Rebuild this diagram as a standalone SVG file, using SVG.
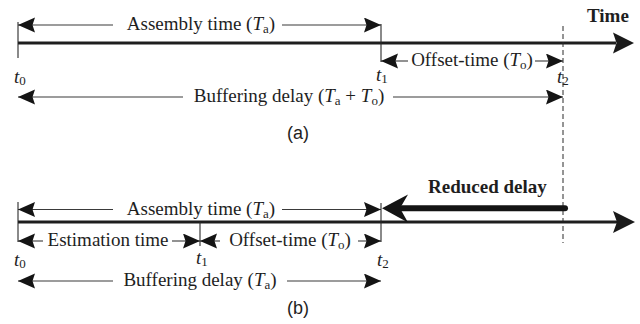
<svg xmlns="http://www.w3.org/2000/svg" width="640" height="324" viewBox="0 0 640 324">
  <style>
    .lbl { font-family: "Liberation Serif", "Times New Roman", serif; font-size: 19px; fill: #1e1e1e; }
    .bold { font-weight: bold; }
    .it { font-style: italic; }
    .cap { font-family: "Liberation Sans", Arial, sans-serif; font-size: 18px; fill: #1e1e1e; text-anchor: middle; }
    .dim { stroke: #3a3a3a; stroke-width: 1.1; fill: none; }
    .tick { stroke: #2a2a2a; stroke-width: 1.1; fill: none; }
    .axis { stroke: #1e1e1e; stroke-width: 3; fill: none; }
    .dash { stroke: #2a2a2a; stroke-width: 1; stroke-dasharray: 5 3; fill: none; }
  </style>
  <defs>
    <!-- notched arrowhead for dimension lines -->
    <marker id="head" markerUnits="userSpaceOnUse" markerWidth="20" markerHeight="16" refX="17" refY="7.5" orient="auto-start-reverse">
      <path d="M0,0 L17,7.5 L0,15 L2.5,7.5 Z" fill="#141414"/>
    </marker>
  </defs>

  <!-- ===== panel (a) ===== -->
  <g id="axis-a">
    <line class="axis" x1="18" y1="43" x2="616" y2="43"/>
    <path d="M634,43 L613,32.5 L616.5,43 L613,53.5 Z" fill="#1a1a1a"/>
    <text class="lbl bold" x="587" y="22">Time</text>
  </g>

  <g id="ticks-a">
    <line class="tick" x1="18" y1="22" x2="18" y2="58"/>
    <line class="tick" x1="381" y1="24" x2="381" y2="62"/>
  </g>

  <g id="connectors">
    <!-- panel (a) dimension lines -->
    <line class="dim" x1="18" y1="25" x2="113" y2="25" marker-start="url(#head)"/>
    <line class="dim" x1="282" y1="25" x2="381" y2="25" marker-end="url(#head)"/>
    <line class="dim" x1="381" y1="61" x2="408" y2="61" marker-start="url(#head)"/>
    <line class="dim" x1="535" y1="61" x2="563" y2="61" marker-end="url(#head)"/>
    <line class="dim" x1="18" y1="97" x2="183" y2="97" marker-start="url(#head)"/>
    <line class="dim" x1="393" y1="97" x2="563" y2="97" marker-end="url(#head)"/>
    <!-- shared t2 guide -->
    <line class="dash" x1="563" y1="26" x2="563" y2="243"/>
    <!-- panel (b) dimension lines -->
    <line class="dim" x1="18" y1="209.5" x2="113" y2="209.5" marker-start="url(#head)"/>
    <line class="dim" x1="282" y1="209.5" x2="381" y2="209.5" marker-end="url(#head)"/>
    <line class="dim" x1="18" y1="241" x2="43" y2="241" marker-start="url(#head)"/>
    <line class="dim" x1="172" y1="241" x2="200" y2="241" marker-end="url(#head)"/>
    <line class="dim" x1="200" y1="241" x2="220" y2="241" marker-start="url(#head)"/>
    <line class="dim" x1="358" y1="241" x2="381" y2="241" marker-end="url(#head)"/>
    <line class="dim" x1="18" y1="281" x2="113" y2="281" marker-start="url(#head)"/>
    <line class="dim" x1="287" y1="281" x2="381" y2="281" marker-end="url(#head)"/>
  </g>

  <g id="labels-a">
    <text class="lbl" x="201" y="30" text-anchor="middle">Assembly time (<tspan class="it">T</tspan><tspan font-size="13" dy="3">a</tspan><tspan dy="-3">)</tspan></text>
    <text class="lbl" x="472" y="66" text-anchor="middle">Offset-time (<tspan class="it">T</tspan><tspan font-size="13" dy="3">o</tspan><tspan dy="-3">)</tspan></text>
    <text class="lbl" x="289" y="102" text-anchor="middle">Buffering delay (<tspan class="it">T</tspan><tspan font-size="13" dy="3">a</tspan><tspan dy="-3"> + </tspan><tspan class="it">T</tspan><tspan font-size="13" dy="3">o</tspan><tspan dy="-3">)</tspan></text>
    <text class="lbl" x="14" y="83"><tspan class="it">t</tspan><tspan font-size="13" dy="2">0</tspan></text>
    <text class="lbl" x="376" y="81"><tspan class="it">t</tspan><tspan font-size="13" dy="2">1</tspan></text>
    <text class="lbl" x="557" y="83"><tspan class="it">t</tspan><tspan font-size="13" dy="2">2</tspan></text>
    <text class="cap" x="298" y="139">(a)</text>
  </g>

  <!-- ===== panel (b) ===== -->
  <g id="axis-b">
    <line class="axis" x1="18" y1="222" x2="617" y2="222"/>
    <path d="M635,222 L613,211 L617,222 L613,233 Z" fill="#1a1a1a"/>
  </g>

  <g id="ticks-b">
    <line class="tick" x1="18" y1="202" x2="18" y2="242"/>
    <line class="tick" x1="200" y1="222" x2="200" y2="246"/>
    <line class="tick" x1="381" y1="203" x2="381" y2="242"/>
  </g>

  <g id="reduced-delay">
    <line x1="402" y1="208.3" x2="565" y2="208.3" stroke="#141414" stroke-width="6" stroke-linecap="round"/>
    <path d="M382,208.3 L408,194.5 L400,208.3 L408,222.5 Z" fill="#141414"/>
    <text class="lbl bold" x="428" y="193">Reduced delay</text>
  </g>

  <g id="labels-b">
    <text class="lbl" x="201" y="214.5" text-anchor="middle">Assembly time (<tspan class="it">T</tspan><tspan font-size="13" dy="3">a</tspan><tspan dy="-3">)</tspan></text>
    <text class="lbl" x="108" y="246" text-anchor="middle">Estimation time</text>
    <text class="lbl" x="290" y="246" text-anchor="middle">Offset-time (<tspan class="it">T</tspan><tspan font-size="13" dy="3">o</tspan><tspan dy="-3">)</tspan></text>
    <text class="lbl" x="200" y="286" text-anchor="middle">Buffering delay (<tspan class="it">T</tspan><tspan font-size="13" dy="3">a</tspan><tspan dy="-3">)</tspan></text>
    <text class="lbl" x="14" y="266"><tspan class="it">t</tspan><tspan font-size="13" dy="2">0</tspan></text>
    <text class="lbl" x="196" y="264"><tspan class="it">t</tspan><tspan font-size="13" dy="2">1</tspan></text>
    <text class="lbl" x="377" y="266"><tspan class="it">t</tspan><tspan font-size="13" dy="2">2</tspan></text>
    <text class="cap" x="298" y="314">(b)</text>
  </g>
</svg>
